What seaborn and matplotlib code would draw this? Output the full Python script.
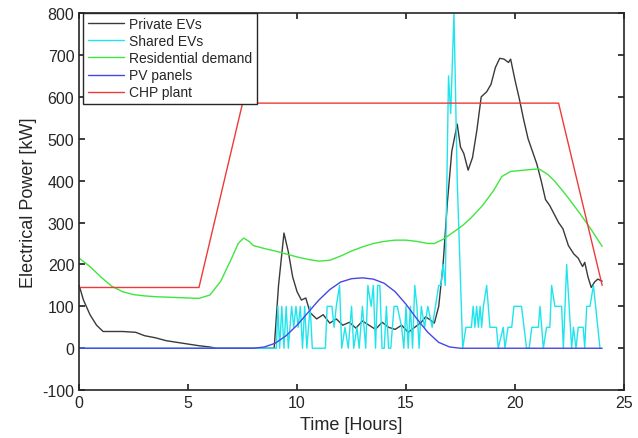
import matplotlib
matplotlib.use("Agg")
import matplotlib.pyplot as plt
import seaborn as sns

# Private EVs (black)
t_private = [0, 0.2, 0.5, 0.8, 1.1, 1.5, 2.0, 2.6, 3.0, 3.5, 4.0, 4.5, 5.0, 5.5, 6.0, 6.3,
             8.95, 9.15, 9.4, 9.6, 9.8, 10.0, 10.2, 10.4, 10.6, 10.9, 11.2, 11.5, 11.8,
             12.1, 12.4, 12.7, 13.0, 13.3, 13.6, 13.9, 14.2, 14.5, 14.8, 15.1, 15.4,
             15.7, 15.9, 16.1, 16.3, 16.5, 16.7, 16.9, 17.1, 17.35, 17.5, 17.65, 17.85,
             18.05, 18.25, 18.45, 18.7, 18.9, 19.1, 19.3, 19.5, 19.7, 19.8, 20.0, 20.2,
             20.4, 20.6, 20.8, 21.0, 21.2, 21.4, 21.6, 21.8, 22.0, 22.2, 22.45, 22.7,
             22.9, 23.1, 23.2, 23.35, 23.5, 23.65, 23.8, 24.0]
private_evs = [150, 115, 80, 55, 40, 40, 40, 38, 30, 25, 18, 14, 10, 6, 3, 0,
               0, 150, 275, 230, 170, 135, 115, 120, 85, 70, 80, 60, 70,
               55, 62, 48, 65, 55, 45, 62, 50, 45, 55, 38, 50,
               62, 75, 68, 60, 100, 200, 350, 470, 535, 480, 465, 425,
               455, 520, 600, 612, 630, 670, 692, 690, 682, 690, 640, 595,
               545, 500, 470, 440, 400, 355, 340, 320, 300, 285, 245, 225,
               215, 195, 205, 170, 145, 158, 165, 160]

# Shared EVs (cyan)
t_shared = [0, 9.05, 9.12, 9.2, 9.3, 9.4, 9.5, 9.6, 9.75, 9.85, 9.95, 10.05, 10.15,
            10.25, 10.35, 10.45, 10.6, 10.7, 11.3, 11.38, 11.6, 11.7, 11.8, 11.95,
            12.05, 12.2, 12.35, 12.5, 12.6, 12.75, 12.85, 13.0, 13.15, 13.25, 13.4,
            13.5, 13.6, 13.7, 13.8, 13.9, 14.0, 14.1, 14.2, 14.3, 14.45, 14.6, 14.8,
            14.9, 15.0, 15.1, 15.2, 15.3, 15.4, 15.5, 15.6, 15.7, 15.85, 16.0, 16.2,
            16.35, 16.5, 16.6, 16.7, 16.8, 16.95, 17.05, 17.2, 17.35, 17.6, 17.75,
            18.0, 18.08, 18.16, 18.24, 18.32, 18.4, 18.47, 18.55, 18.7, 18.85, 19.15,
            19.23, 19.46, 19.54, 19.68, 19.85, 19.95, 20.08, 20.3, 20.53, 20.65,
            20.77, 21.07, 21.15, 21.3, 21.45, 21.6, 21.68, 21.83, 22.14, 22.22,
            22.37, 22.6, 22.68, 22.8, 22.9, 23.0, 23.13, 23.2, 23.29, 23.44, 23.6,
            23.9]
shared_evs = [0, 0, 100, 0, 100, 0, 100, 0, 100, 50, 100, 50, 100,
              0, 100, 0, 100, 0, 0, 100, 100, 50, 100, 150,
              0, 50, 0, 100, 0, 50, 0, 100, 0, 150, 100,
              150, 0, 150, 150, 0, 0, 100, 0, 0, 100, 100, 50,
              0, 100, 0, 100, 0, 150, 100, 0, 100, 50, 100, 50,
              100, 150, 150, 200, 150, 650, 560, 800, 400, 0, 50,
              50, 100, 50, 100, 50, 100, 50, 100, 150, 50, 50,
              0, 50, 0, 50, 50, 100, 100, 100, 0, 0,
              50, 50, 100, 0, 50, 50, 150, 100, 100, 0,
              200, 0, 50, 0, 50, 50, 50, 0, 100, 100, 150,
              0]

# Residential demand (green)
t_res = [0, 0.5, 1.0, 1.5, 2.0, 2.5, 3.0, 3.5, 4.0, 4.5, 5.0, 5.5, 6.0, 6.5, 7.0,
         7.3, 7.55, 7.8, 8.0, 8.5, 9.0, 9.5, 10.0, 10.5, 11.0, 11.5, 12.0, 12.5,
         13.0, 13.5, 14.0, 14.5, 15.0, 15.5, 16.0, 16.3, 16.7, 17.2, 17.6, 18.0,
         18.5, 19.0, 19.4, 19.8, 20.2, 20.6, 21.1, 21.5, 21.8, 22.2, 22.5, 23.0,
         23.5, 24.0]
residential = [215, 195, 170, 148, 135, 128, 125, 123, 122, 121, 120, 119, 127, 160,
               215, 250, 263, 255, 245, 238, 232, 225, 218, 212, 208, 210, 220, 232,
               242, 250, 255, 258, 258, 255, 250, 250, 260, 278, 293, 312,
               340, 375, 410, 422, 424, 426, 428, 415, 400, 375, 355, 320,
               283, 243]

# PV panels (blue)
t_pv = [0, 8.0, 8.5, 9.0, 9.5, 10.0, 10.5, 11.0, 11.5, 12.0, 12.5, 13.0, 13.5,
        14.0, 14.5, 15.0, 15.5, 16.0, 16.5, 17.0, 17.5, 24.0]
pv_panels = [0, 0, 3, 12, 30, 55, 85, 115, 140, 158, 166, 168, 165,
             155, 135, 105, 70, 38, 14, 3, 0, 0]

# CHP plant (red)
t_chp = [0, 5.5, 7.5, 22.0, 24.0]
chp_plant = [145, 145, 585, 585, 150]

sns.set_theme(style="ticks", rc={
    "figure.figsize": (6.38, 4.39),
    "figure.dpi": 100,
    "axes.edgecolor": "#262626",
    "axes.linewidth": 1.2,
    "axes.unicode_minus": False,
    "xtick.direction": "in",
    "ytick.direction": "in",
    "xtick.top": True,
    "ytick.right": True,
    "xtick.major.size": 4,
    "ytick.major.size": 4,
})
plt.rcParams["font.family"] = ["Liberation Sans", "DejaVu Sans"]

fig, ax = plt.subplots()
fig.subplots_adjust(left=0.124, right=0.978, top=0.968, bottom=0.109)

sns.lineplot(x=t_private, y=private_evs, ax=ax, color="#3a3a3a", lw=1, label="Private EVs")
sns.lineplot(x=t_shared, y=shared_evs, ax=ax, color="#20e4ec", lw=1, label="Shared EVs")
sns.lineplot(x=t_res, y=residential, ax=ax, color="#3fe63f", lw=1, label="Residential demand")
sns.lineplot(x=t_pv, y=pv_panels, ax=ax, color="#4646e6", lw=1, label="PV panels")
sns.lineplot(x=t_chp, y=chp_plant, ax=ax, color="#ee3a3a", lw=1, label="CHP plant")

ax.set_xlim(0, 25)
ax.set_ylim(-100, 800)
ax.set_xticks([0, 5, 10, 15, 20, 25])
ax.set_yticks(range(-100, 801, 100))
ax.tick_params(labelsize=11.5, colors="#262626")
ax.set_xlabel("Time [Hours]", fontsize=13)
ax.set_ylabel("Electrical Power [kW]", fontsize=13)

leg = ax.legend(loc="upper left", bbox_to_anchor=(0.008, 1.0), fontsize=10,
                frameon=True, fancybox=False, edgecolor="#262626", framealpha=1,
                borderaxespad=0, handlelength=2.6, handletextpad=0.4,
                labelspacing=0.22, borderpad=0.3)
leg.get_frame().set_linewidth(1.0)

fig.savefig("out.png", dpi=100)
